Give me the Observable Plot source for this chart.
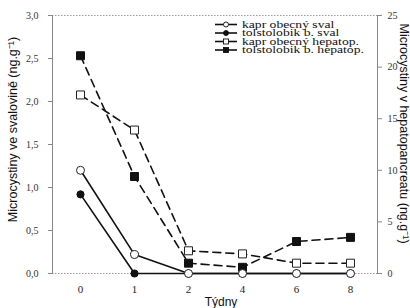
<!DOCTYPE html>
<html><head><meta charset="utf-8">
<script src="https://cdn.jsdelivr.net/npm/d3@7"></script>
<script src="https://cdn.jsdelivr.net/npm/@observablehq/plot@0.6"></script>
<style>body{margin:0;background:#fff}</style>
</head><body><div id="chart"></div>
<script>
const weeks = ["0", "1", "2", "4", "6", "8"];
const kaprSval = [1.2, 0.22, 0, 0, 0, 0];
const tolstSval = [0.92, 0, 0, 0, 0, 0];
const kaprHep = [17.3, 13.9, 2.2, 1.9, 1.0, 1.0];
const tolstHep = [21.1, 9.4, 1.0, 0.6, 3.1, 3.5];
const seriesNames = ["kapr obecný sval", "tolstolobik b. sval", "kapr obecný hepatop.", "tolstolobik b. hepatop."];
const leftTicks = [0, 0.5, 1, 1.5, 2, 2.5, 3];
const rightTicks = [0, 5, 10, 15, 20, 25];
const leftTitle = "Microcystiny ve svalovině (ng.g⁻¹)";
const rightTitle = "Microcystiny v hepatopancreatu (ng.g⁻¹)";
const xTitle = "Týdny";

const k = 3 / 25; // right axis -> left axis
const mk = (vals, name, scale) => vals.map((v, i) => ({week: weeks[i], v: v * scale, name}));
const sKS = mk(kaprSval, seriesNames[0], 1);
const sTS = mk(tolstSval, seriesNames[1], 1);
const sKH = mk(kaprHep, seriesNames[2], k);
const sTH = mk(tolstHep, seriesNames[3], k);

const serif = "'Liberation Serif', 'Times New Roman', serif";
const sans = "'Liberation Sans', Arial, sans-serif";

const chart = Plot.plot({
  width: 410, height: 308,
  marginLeft: 52, marginRight: 33, marginTop: 15, marginBottom: 35,
  style: {fontFamily: serif, fontSize: "10px", background: "#fff", color: "#222"},
  x: {type: "point", domain: weeks, padding: 0.5},
  y: {domain: [0, 3]},
  marks: [
    Plot.ruleY([0, 3], {stroke: "#999", strokeDasharray: "1.5,1.5", strokeWidth: 1}),
    Plot.frame({anchor: "left", stroke: "#888"}),
    Plot.frame({anchor: "right", stroke: "#888"}),
    Plot.axisY(leftTicks, {anchor: "left", tickSize: 4, tickPadding: 10, stroke: "#888",
      tickFormat: d => d.toFixed(1).replace(".", ","), fontFamily: serif, fontSize: 10, fill: "#333", label: null}),
    Plot.axisY(rightTicks, {y: d => d * k, anchor: "right", tickSize: 4, tickPadding: 6, stroke: "#888",
      text: d => String(d), fontFamily: serif, fontSize: 10, fill: "#333", label: null}),
    Plot.axisX({tickSize: 0, tickPadding: 12, fontFamily: serif, fontSize: 11, fill: "#222", label: null}),
    Plot.text([leftTitle], {frameAnchor: "left", textAnchor: "middle", text: d => d, rotate: -90, dx: -40, dy: -15,
      fontFamily: sans, fontSize: 12.5, fill: "#111"}),
    Plot.text([rightTitle], {frameAnchor: "right", textAnchor: "middle", text: d => d, rotate: 90, dx: 26, dy: -11,
      fontFamily: sans, fontSize: 12.5, fill: "#111"}),
    Plot.text([xTitle], {frameAnchor: "bottom", text: d => d, dx: 6, dy: 32,
      fontFamily: sans, fontSize: 12, fill: "#111"}),
    Plot.line(sKH, {x: "week", y: "v", stroke: "#111", strokeWidth: 1.6, strokeDasharray: "8,5"}),
    Plot.line(sTH, {x: "week", y: "v", stroke: "#111", strokeWidth: 1.6, strokeDasharray: "8,5"}),
    Plot.line(sKS, {x: "week", y: "v", stroke: "#111", strokeWidth: 1.6}),
    Plot.line(sTS, {x: "week", y: "v", stroke: "#111", strokeWidth: 1.6}),
    Plot.dot(sKH, {x: "week", y: "v", symbol: "square", r: 4.5, fill: "#fff", stroke: "#222", strokeWidth: 1}),
    Plot.dot(sTH, {x: "week", y: "v", symbol: "square", r: 4.5, fill: "#111", stroke: "#111", strokeWidth: 1}),
    Plot.dot(sTS, {x: "week", y: "v", r: 3.6, fill: "#111", stroke: "#111", strokeWidth: 1}),
    Plot.dot(sKS, {x: "week", y: "v", r: 4, fill: "#fff", stroke: "#222", strokeWidth: 1})
  ]
});
document.getElementById("chart").appendChild(chart);

// legend
const svg = d3.select(chart);
const lg = svg.append("g").attr("text-anchor", "start");
const rowY = [24.5, 33, 41.5, 50];
const filled = [false, true, false, true];
const sq = [false, false, true, true];
seriesNames.forEach((name, i) => {
  const y = rowY[i];
  lg.append("line").attr("x1", 215).attr("x2", 237).attr("y1", y).attr("y2", y)
    .attr("stroke", "#111").attr("stroke-width", 1.6);
  if (sq[i]) {
    lg.append("rect").attr("x", 223.5).attr("y", y - 2.5).attr("width", 5).attr("height", 5)
      .attr("fill", filled[i] ? "#111" : "#fff").attr("stroke", "#111").attr("stroke-width", 0.9);
  } else {
    lg.append("circle").attr("cx", 226).attr("cy", y).attr("r", 2.5)
      .attr("fill", filled[i] ? "#111" : "#fff").attr("stroke", "#111").attr("stroke-width", 0.9);
  }
  lg.append("text").attr("transform", `translate(242,${y}) scale(1.3,1)`).attr("dy", "0.32em")
    .attr("text-anchor", "start")
    .attr("font-family", serif).attr("font-size", 10.5).attr("fill", "#111").text(name);
});
</script>
</body></html>
